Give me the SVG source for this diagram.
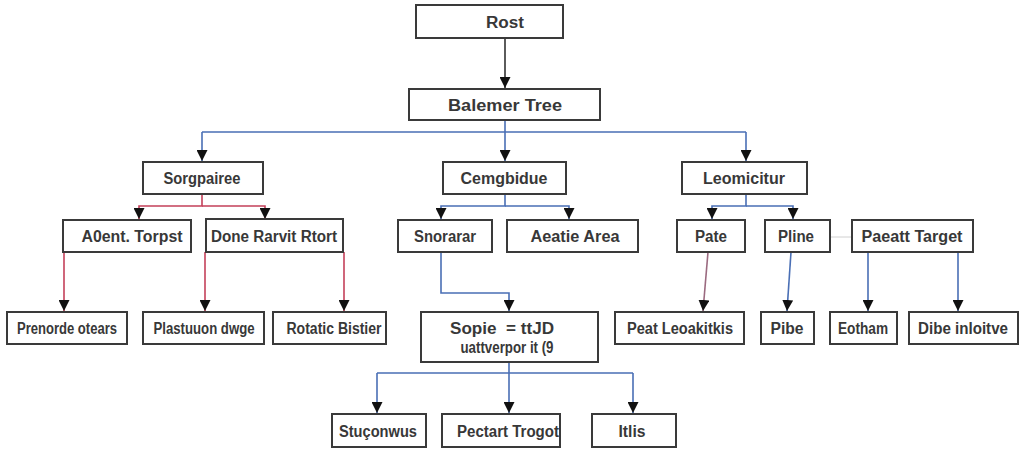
<svg xmlns="http://www.w3.org/2000/svg" width="1024" height="453" viewBox="0 0 1024 453">
<style>
.box{fill:#fff;stroke:#3a3a3a;stroke-width:2}
.t{font-family:"Liberation Sans",Arial,sans-serif;font-weight:bold;font-size:16px;fill:#383838;text-anchor:middle;dominant-baseline:central}
.c{fill:none;stroke-width:1.6}
.blue{stroke:#4a6fb5}
.red{stroke:#c4405a}
.mauve{stroke:#9b6a80}
.dark{stroke:#333}
</style>
<defs>
<marker id="ah" viewBox="0 0 10 10" refX="10" refY="5" markerWidth="11" markerHeight="11" markerUnits="userSpaceOnUse" orient="auto">
<path d="M0,0 L10,5 L0,10 Z" fill="#111"/>
</marker>
</defs>
<rect width="1024" height="453" fill="#fff"/>
<g id="connectors">
<path class="c dark" d="M505,38 V88" marker-end="url(#ah)"/>
<path class="c blue" d="M505,120 V132 M202,132 H746"/>
<path class="c blue" d="M202,132 V161" marker-end="url(#ah)"/>
<path class="c blue" d="M505,132 V161" marker-end="url(#ah)"/>
<path class="c blue" d="M746,132 V161" marker-end="url(#ah)"/>
<path class="c red" d="M202,195 V206 H139 V219" marker-end="url(#ah)"/>
<path class="c red" d="M202,206 H265 V219" marker-end="url(#ah)"/>
<path class="c blue" d="M505,194 V206 H441 V219" marker-end="url(#ah)"/>
<path class="c blue" d="M505,206 H569 V219" marker-end="url(#ah)"/>
<path class="c blue" d="M746,194 V206 H712 V219" marker-end="url(#ah)"/>
<path class="c blue" d="M746,206 H793 V219" marker-end="url(#ah)"/>
<path class="c red" d="M64,252 V311" marker-end="url(#ah)"/>
<path class="c red" d="M205,252 V311" marker-end="url(#ah)"/>
<path class="c red" d="M344,252 V311" marker-end="url(#ah)"/>
<path class="c blue" d="M441,252 V293 H509 V311" marker-end="url(#ah)"/>
<path class="c blue" d="M509,362 V373 M377,373 H633"/>
<path class="c blue" d="M377,373 V413" marker-end="url(#ah)"/>
<path class="c blue" d="M509,373 V413" marker-end="url(#ah)"/>
<path class="c blue" d="M633,373 V413" marker-end="url(#ah)"/>
<path class="c mauve" d="M708,252 L703,311" marker-end="url(#ah)"/>
<path class="c blue" d="M791,252 L787,311" marker-end="url(#ah)"/>
<path class="c blue" d="M868,252 V311" marker-end="url(#ah)"/>
<path class="c blue" d="M958,252 V311" marker-end="url(#ah)"/>
<path d="M830,237 H852" fill="none" stroke="#d0d0d0" stroke-width="1"/>
</g>
<g id="root"><rect class="box" x="416" y="5" width="147" height="33"/><text class="t" x="505" y="22" textLength="38" lengthAdjust="spacingAndGlyphs">Rost</text></g>
<g id="balemer"><rect class="box" x="409" y="89" width="191" height="31"/><text class="t" x="505" y="105" textLength="114" lengthAdjust="spacingAndGlyphs">Balemer Tree</text></g>
<g id="sorgpairee"><rect class="box" x="143" y="162" width="120" height="32"/><text class="t" x="202" y="178" textLength="77" lengthAdjust="spacingAndGlyphs">Sorgpairee</text></g>
<g id="cemgbidue"><rect class="box" x="443" y="162" width="123" height="32"/><text class="t" x="504" y="178" textLength="87" lengthAdjust="spacingAndGlyphs">Cemgbidue</text></g>
<g id="leomicitur"><rect class="box" x="682" y="162" width="125" height="32"/><text class="t" x="744" y="178" textLength="82" lengthAdjust="spacingAndGlyphs">Leomicitur</text></g>
<g id="agent"><rect class="box" x="63" y="220" width="128" height="32"/><text class="t" x="132" y="236" textLength="101" lengthAdjust="spacingAndGlyphs">A0ent. Torpst</text></g>
<g id="done"><rect class="box" x="206" y="219" width="137" height="33"/><text class="t" x="274" y="236" textLength="126" lengthAdjust="spacingAndGlyphs">Done Rarvit Rtort</text></g>
<g id="snorarar"><rect class="box" x="398" y="220" width="94" height="32"/><text class="t" x="445" y="236" textLength="62" lengthAdjust="spacingAndGlyphs">Snorarar</text></g>
<g id="aeatie"><rect class="box" x="507" y="220" width="131" height="32"/><text class="t" x="575" y="236" textLength="89" lengthAdjust="spacingAndGlyphs">Aeatie Area</text></g>
<g id="pate"><rect class="box" x="677" y="220" width="68" height="32"/><text class="t" x="711" y="236" textLength="32" lengthAdjust="spacingAndGlyphs">Pate</text></g>
<g id="pline"><rect class="box" x="765" y="220" width="65" height="32"/><text class="t" x="796" y="236" textLength="36" lengthAdjust="spacingAndGlyphs">Pline</text></g>
<g id="paeatt"><rect class="box" x="852" y="220" width="121" height="32"/><text class="t" x="912" y="236" textLength="101" lengthAdjust="spacingAndGlyphs">Paeatt Target</text></g>
<g id="prenorde"><rect class="box" x="7" y="312" width="120" height="32"/><text class="t" x="67" y="328" textLength="100" lengthAdjust="spacingAndGlyphs">Prenorde otears</text></g>
<g id="plastuuon"><rect class="box" x="143" y="312" width="121" height="32"/><text class="t" x="204" y="328" textLength="101" lengthAdjust="spacingAndGlyphs">Plastuuon dwge</text></g>
<g id="rotatic"><rect class="box" x="273" y="312" width="113" height="32"/><text class="t" x="334" y="328" textLength="95" lengthAdjust="spacingAndGlyphs">Rotatic Bistier</text></g>
<g id="sopie"><rect class="box" x="421" y="312" width="177" height="50"/><text class="t" x="502" y="328" textLength="104" lengthAdjust="spacingAndGlyphs">Sopie&#160; = ttJD</text><text class="t" x="507" y="347" textLength="93" lengthAdjust="spacingAndGlyphs">uattverpor it (9</text></g>
<g id="peat"><rect class="box" x="615" y="312" width="129" height="32"/><text class="t" x="680" y="328" textLength="106" lengthAdjust="spacingAndGlyphs">Peat Leoakitkis</text></g>
<g id="pibe"><rect class="box" x="761" y="312" width="53" height="32"/><text class="t" x="787" y="328" textLength="33" lengthAdjust="spacingAndGlyphs">Pibe</text></g>
<g id="eotham"><rect class="box" x="830" y="312" width="67" height="32"/><text class="t" x="863" y="328" textLength="50" lengthAdjust="spacingAndGlyphs">Eotham</text></g>
<g id="dibe"><rect class="box" x="909" y="312" width="109" height="32"/><text class="t" x="963" y="328" textLength="90" lengthAdjust="spacingAndGlyphs">Dibe inloitve</text></g>
<g id="stuconwus"><rect class="box" x="332" y="414" width="94" height="33"/><text class="t" x="378" y="431" textLength="78" lengthAdjust="spacingAndGlyphs">Stuçonwus</text></g>
<g id="pectart"><rect class="box" x="442" y="414" width="118" height="33"/><text class="t" x="508" y="431" textLength="102" lengthAdjust="spacingAndGlyphs">Pectart Trogot</text></g>
<g id="itlis"><rect class="box" x="592" y="414" width="84" height="33"/><text class="t" x="632" y="431" textLength="27" lengthAdjust="spacingAndGlyphs">Itlis</text></g>
</svg>
